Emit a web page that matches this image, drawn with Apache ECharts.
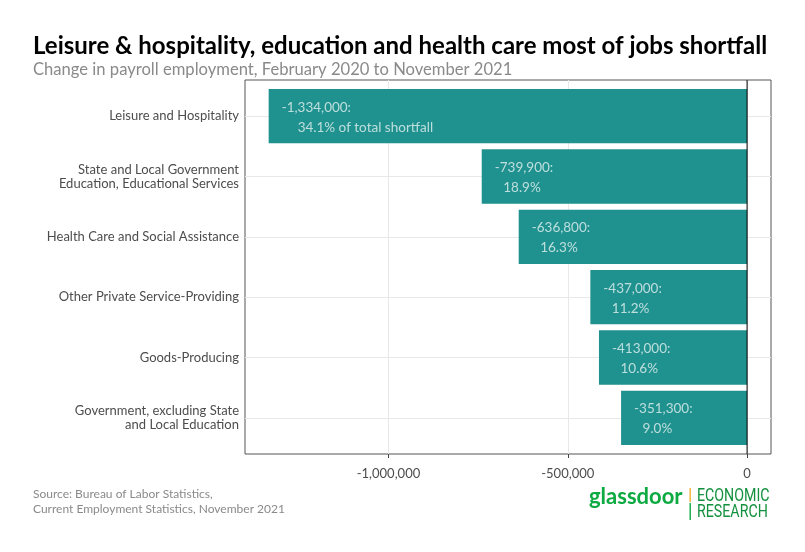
<!DOCTYPE html>
<html>
<head>
<meta charset="utf-8">
<script src="https://cdn.jsdelivr.net/npm/echarts@6/dist/echarts.min.js"></script>
<style>html,body{margin:0;padding:0;background:#fff;}#c{width:805px;height:552px;}</style>
</head>
<body>
<div id="c"></div>
<script>
const categories = [
  'Leisure and Hospitality',
  'State and Local Government\nEducation, Educational Services',
  'Health Care and Social Assistance',
  'Other Private Service-Providing',
  'Goods-Producing',
  'Government, excluding State\nand Local Education'
];
const changes = [-1334000, -739900, -636800, -437000, -413000, -351300];
const shares = [34.1, 18.9, 16.3, 11.2, 10.6, 9.0];
const xTickValues = [-1000000, -500000, 0];
const titleText = 'Leisure & hospitality, education and health care most of jobs shortfall';
const subtitleText = 'Change in payroll employment, February 2020 to November 2021';
const sourceText = 'Source: Bureau of Labor Statistics,\nCurrent Employment Statistics, November 2021';

const FONT = 'Lato';
const fmt = v => v.toLocaleString('en-US');
const xMin = -1400000, xMax = 66700;

const chart = echarts.init(document.getElementById('c'), null, {renderer: 'canvas'});
chart.setOption({
  animation: false,
  backgroundColor: '#ffffff',
  textStyle: {fontFamily: FONT},
  title: [
    {text: titleText, left: 33, top: 34, padding: 0,
     textStyle: {fontFamily: FONT, fontSize: 24, fontWeight: 'bold', color: '#000'}},
    {text: subtitleText, left: 33, top: 61, padding: 0,
     textStyle: {fontFamily: FONT, fontSize: 16.6, fontWeight: 'normal', color: '#8a8a8a'}},
    {text: sourceText, left: 33, top: 487, padding: 0,
     textStyle: {fontFamily: FONT, fontSize: 12, lineHeight: 14.5, fontWeight: 'normal', color: '#8a8a8a'}}
  ],
  grid: [
    {left: 245, right: 34, top: 80, bottom: 98, show: true, borderColor: '#555', borderWidth: 1, containLabel: false},
    {left: 245, right: 34, top: 116.2, bottom: 134.2, show: false, containLabel: false}
  ],
  xAxis: [
    {gridIndex: 0, type: 'value', min: xMin, max: xMax, interval: 100000,
     axisLine: {show: false},
     splitLine: {show: true, lineStyle: {color: '#e8e8e8', width: 1}},
     axisTick: {show: true, length: 4, customValues: xTickValues, lineStyle: {color: '#444'}},
     axisLabel: {show: true, customValues: xTickValues, formatter: v => fmt(v), color: '#4d4d4d',
                 fontSize: 13, fontFamily: FONT, margin: 13}},
    {gridIndex: 1, type: 'value', min: xMin, max: xMax, show: false}
  ],
  yAxis: [
    {gridIndex: 0, type: 'value', min: 0, max: 1, show: false},
    {gridIndex: 1, type: 'category', data: categories, inverse: true, boundaryGap: false,
     axisLine: {show: false},
     axisTick: {show: true, length: 4, interval: 0, lineStyle: {color: '#444'}},
     splitLine: {show: true, interval: 0, lineStyle: {color: '#e8e8e8', width: 1}},
     axisLabel: {interval: 0, color: '#4d4d4d', fontSize: 13, lineHeight: 14, fontFamily: FONT, margin: 6, align: 'right'}}
  ],
  series: [
    {type: 'bar', xAxisIndex: 1, yAxisIndex: 1, data: changes, barWidth: 54.3, clip: false,
     itemStyle: {color: '#1f918e'}, silent: true, z: 2},
    {type: 'scatter', xAxisIndex: 1, yAxisIndex: 1, clip: false, silent: true, z: 4,
     data: changes.map((v, i) => [v, i]),
     symbolSize: 1, itemStyle: {color: 'transparent'},
     label: {show: true, position: 'right', distance: 12.5, offset: [0, 1],
       formatter: p => {
         const i = p.dataIndex;
         const second = shares[i].toFixed(1) + '%' + (i === 0 ? ' of total shortfall' : '');
         return '{a|' + fmt(changes[i]) + ':}\n{' + (i === 0 ? 'c' : 'b') + '|' + second + '}';
       },
       rich: {
         a: {color: '#e3f1f0', fontSize: 13.5, fontFamily: FONT, lineHeight: 20},
         b: {color: '#e3f1f0', fontSize: 13.5, fontFamily: FONT, lineHeight: 20, padding: [0, 0, 0, 8.5]},
         c: {color: '#e3f1f0', fontSize: 13.5, fontFamily: FONT, lineHeight: 20, padding: [0, 0, 0, 16]}
       }}},
    {type: 'line', xAxisIndex: 0, yAxisIndex: 0, data: [[0, 0], [0, 1]], symbol: 'none', silent: true, z: 5,
     lineStyle: {color: '#000', width: 1}}
  ],
  graphic: [
    {type: 'text', left: 589, top: 486, style: {text: 'glassdoor', fill: '#0caa41',
      font: 'bold 22px Lato'}},
    {type: 'rect', shape: {x: 689.5, y: 488, width: 1.4, height: 14}, style: {fill: '#f2b233'}},
    {type: 'rect', shape: {x: 689.5, y: 503, width: 1.4, height: 17}, style: {fill: '#0caa41'}},
    {type: 'text', x: 697, y: 488, scaleX: 0.79, style: {text: 'ECONOMIC\nRESEARCH', fill: '#14913f',
      font: '18px Roboto', lineHeight: 16.5}}
  ]
});
</script>
</body>
</html>
